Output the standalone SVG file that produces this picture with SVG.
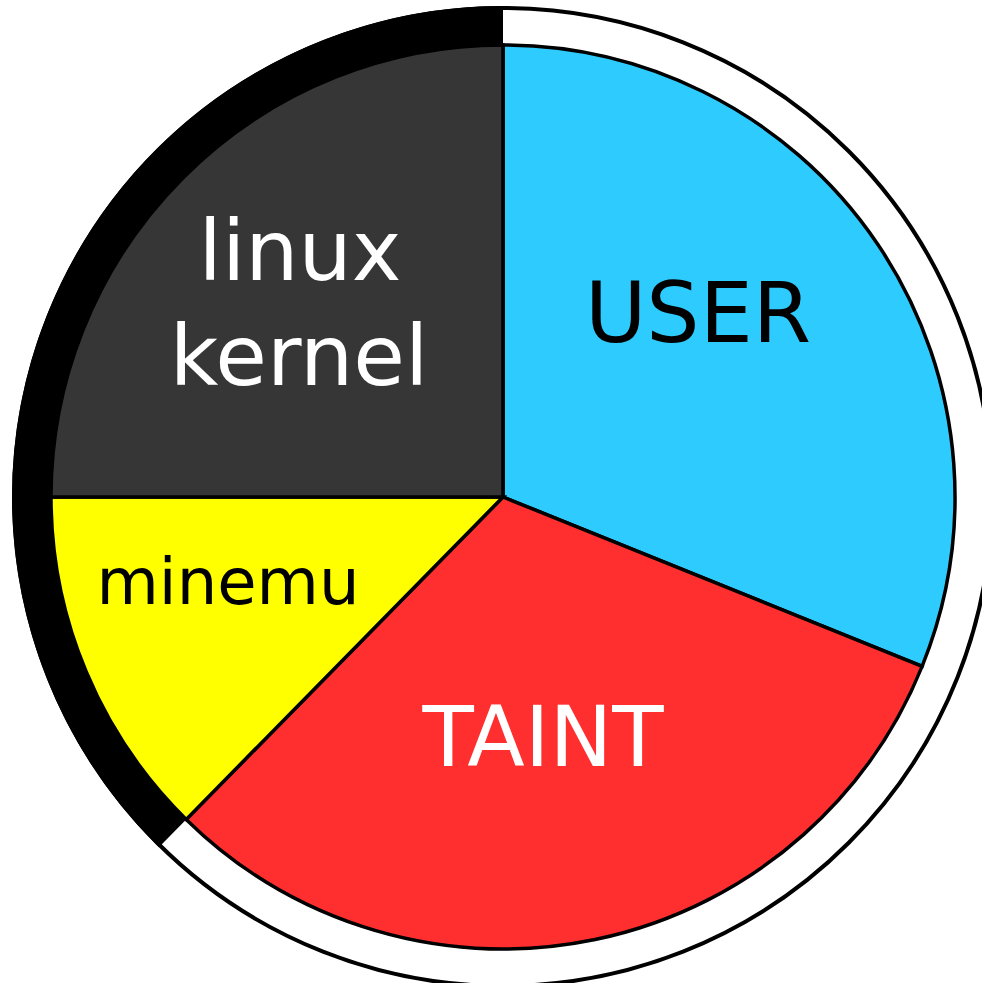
<svg xmlns="http://www.w3.org/2000/svg" width="982" height="983" viewBox="0 0 982 983">
<style>
.sl{stroke:#000;stroke-width:3.5;stroke-linejoin:miter}
text{font-family:"DejaVu Sans","Liberation Sans",sans-serif;text-anchor:middle}
</style>
<rect width="982" height="983" fill="#fff"/>
<g id="ring">
<circle cx="503" cy="497" r="489" fill="#fff" stroke="#000" stroke-width="4"/>
<path d="M158.9,847.2 A491,491 0 0 1 503,6 L503,45 A452,452 0 0 0 186.2,819.4 Z" fill="#000"/>
</g>
<g id="user">
<path class="sl" d="M503,497 L503,45 A452,452 0 0 1 922.1,666.3 Z" fill="#2ecbff"/>
<text x="698" y="342" font-size="84" fill="#000">USER</text>
</g>
<g id="taint">
<path class="sl" d="M503,497 L922.1,666.3 A452,452 0 0 1 186.2,819.4 Z" fill="#ff2f2f"/>
<text x="543" y="766" font-size="84" fill="#fff">TAINT</text>
</g>
<g id="minemu">
<path class="sl" d="M503,497 L186.2,819.4 A452,452 0 0 1 51,497 Z" fill="#ffff00"/>
<text x="228" y="604" font-size="64" fill="#000">minemu</text>
</g>
<g id="kernel">
<path class="sl" d="M503,497 L51,497 A452,452 0 0 1 503,45 Z" fill="#363636"/>
<text x="300" y="280" font-size="84" fill="#fff">linux</text>
<text x="299" y="385" font-size="84" fill="#fff">kernel</text>
</g>
</svg>
